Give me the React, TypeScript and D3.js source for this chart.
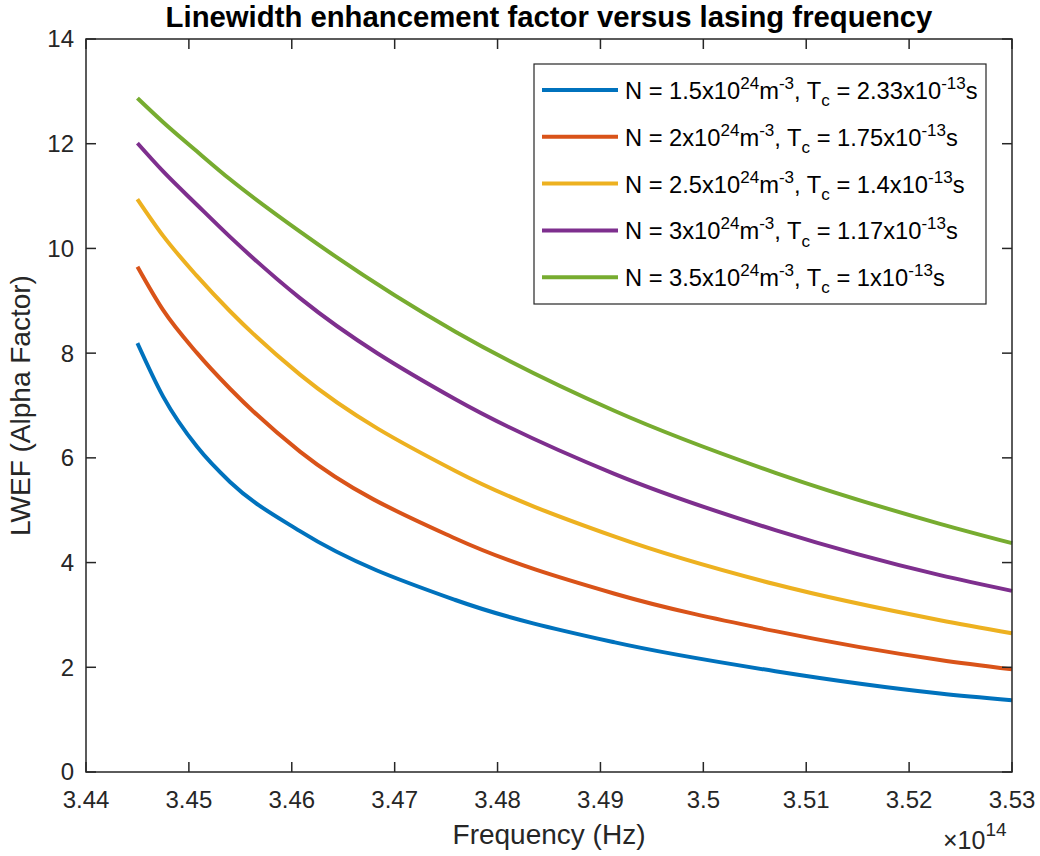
import { useMemo } from 'react';
import * as d3 from 'd3';

const WIDTH = 1040;
const HEIGHT = 856;
const MARGIN = { top: 39, right: 28, bottom: 84, left: 86 };
const FONT = '"Liberation Sans", Arial, Helvetica, sans-serif';
const AXIS_COLOR = '#262626';

// frequency, x10^14 Hz
const frequency = [3.445, 3.4475, 3.4508, 3.454, 3.4608, 3.4759, 3.4914, 3.507, 3.523, 3.53];

const alphaN15 = [8.19, 7.17, 6.21, 5.54, 4.6, 3.285, 2.475, 1.925, 1.5, 1.37];
const alphaN20 = [9.65, 8.82, 8.0, 7.32, 6.12, 4.46, 3.405, 2.69, 2.14, 1.96];
const alphaN25 = [10.94, 10.24, 9.47, 8.8, 7.59, 5.75, 4.495, 3.585, 2.9, 2.65];
const alphaN30 = [12.01, 11.47, 10.83, 10.22, 9.05, 7.12, 5.69, 4.62, 3.76, 3.46];
const alphaN35 = [12.87, 12.41, 11.85, 11.32, 10.32, 8.41, 6.895, 5.715, 4.74, 4.37];

const xTicks = [3.44, 3.45, 3.46, 3.47, 3.48, 3.49, 3.5, 3.51, 3.52, 3.53];
const yTicks = [0, 2, 4, 6, 8, 10, 12, 14];

// legend pieces: [text, 'n' | 'sup' | 'sub']
const legendLabels = [
  [['N = 1.5x10', 'n'], ['24', 'sup'], ['m', 'n'], ['-3', 'sup'], [', T', 'n'], ['c', 'sub'], [' = 2.33x10', 'n'], ['-13', 'sup'], ['s', 'n']],
  [['N = 2x10', 'n'], ['24', 'sup'], ['m', 'n'], ['-3', 'sup'], [', T', 'n'], ['c', 'sub'], [' = 1.75x10', 'n'], ['-13', 'sup'], ['s', 'n']],
  [['N = 2.5x10', 'n'], ['24', 'sup'], ['m', 'n'], ['-3', 'sup'], [', T', 'n'], ['c', 'sub'], [' = 1.4x10', 'n'], ['-13', 'sup'], ['s', 'n']],
  [['N = 3x10', 'n'], ['24', 'sup'], ['m', 'n'], ['-3', 'sup'], [', T', 'n'], ['c', 'sub'], [' = 1.17x10', 'n'], ['-13', 'sup'], ['s', 'n']],
  [['N = 3.5x10', 'n'], ['24', 'sup'], ['m', 'n'], ['-3', 'sup'], [', T', 'n'], ['c', 'sub'], [' = 1x10', 'n'], ['-13', 'sup'], ['s', 'n']],
];

const seriesValues = [alphaN15, alphaN20, alphaN25, alphaN30, alphaN35];
const colors = ['#0072BD', '#D95319', '#EDB120', '#7E2F8E', '#77AC30'];

const RichText = ({ x, y, parts, size }) => {
  const small = size * 0.72;
  let shift = 0;
  return (
    <text x={x} y={y} fontSize={size} fill="#000" fontFamily={FONT}>
      {parts.map(([t, kind], i) => {
        const target = kind === 'sup' ? -size * 0.42 : kind === 'sub' ? size * 0.3 : 0;
        const dy = target - shift;
        shift = target;
        return (
          <tspan key={i} dy={dy} fontSize={kind === 'n' ? size : small} style={{ whiteSpace: 'pre' }}>
            {t}
          </tspan>
        );
      })}
    </text>
  );
};

const App = () => {
  const boundsWidth = WIDTH - MARGIN.left - MARGIN.right;
  const boundsHeight = HEIGHT - MARGIN.top - MARGIN.bottom;

  const xScale = useMemo(() => d3.scaleLinear().domain([3.44, 3.53]).range([0, boundsWidth]), [boundsWidth]);
  const yScale = useMemo(() => d3.scaleLinear().domain([0, 14]).range([boundsHeight, 0]), [boundsHeight]);

  const lineGen = d3
    .line<[number, number]>()
    .x(d => xScale(d[0]))
    .y(d => yScale(d[1]))
    .curve(d3.curveMonotoneX);

  const paths = seriesValues.map((vals, i) => (
    <path
      key={`line-${i}`}
      d={lineGen(frequency.map((f, j) => [f, vals[j]])) || ''}
      fill="none"
      stroke={colors[i]}
      strokeWidth={4}
      strokeLinejoin="round"
    />
  ));

  const tickLen = 10;

  const xAxis = xTicks.map(t => {
    const x = xScale(t);
    return (
      <g key={`x-${t}`}>
        <line x1={x} x2={x} y1={boundsHeight} y2={boundsHeight - tickLen} stroke={AXIS_COLOR} strokeWidth={1.5} />
        <line x1={x} x2={x} y1={0} y2={tickLen} stroke={AXIS_COLOR} strokeWidth={1.5} />
        <text x={x} y={boundsHeight + 36} textAnchor="middle" fontSize={24} fill={AXIS_COLOR} fontFamily={FONT}>
          {String(+t.toFixed(2))}
        </text>
      </g>
    );
  });

  const yAxis = yTicks.map(t => {
    const y = yScale(t);
    return (
      <g key={`y-${t}`}>
        <line x1={0} x2={tickLen} y1={y} y2={y} stroke={AXIS_COLOR} strokeWidth={1.5} />
        <line x1={boundsWidth} x2={boundsWidth - tickLen} y1={y} y2={y} stroke={AXIS_COLOR} strokeWidth={1.5} />
        <text x={-12} y={y} dy="0.35em" textAnchor="end" fontSize={24} fill={AXIS_COLOR} fontFamily={FONT}>
          {t}
        </text>
      </g>
    );
  });

  // legend box in plot coords
  const legend = { x: 534 - MARGIN.left, y: 64 - MARGIN.top, w: 452, h: 240, rowGap: 46.8, firstRow: 90 - MARGIN.top };

  return (
    <svg width={WIDTH} height={HEIGHT} style={{ position: 'absolute', left: 0, top: 0, background: '#fff' }}>
      <rect width={WIDTH} height={HEIGHT} fill="#fff" />
      <text
        x={MARGIN.left + boundsWidth / 2}
        y={27}
        textAnchor="middle"
        fontSize={29.3}
        fontWeight="bold"
        fill="#000"
        fontFamily={FONT}
      >
        Linewidth enhancement factor versus lasing frequency
      </text>
      <g transform={`translate(${[MARGIN.left, MARGIN.top].join(',')})`}>
        {paths}
        <rect x={0} y={0} width={boundsWidth} height={boundsHeight} fill="none" stroke={AXIS_COLOR} strokeWidth={1.5} />
        {xAxis}
        {yAxis}
        <g>
          <rect x={legend.x} y={legend.y} width={legend.w} height={legend.h} fill="#fff" stroke={AXIS_COLOR} strokeWidth={1.2} />
          {legendLabels.map((parts, i) => {
            const cy = legend.firstRow + i * legend.rowGap;
            return (
              <g key={`leg-${i}`}>
                <line x1={legend.x + 8} x2={legend.x + 84} y1={cy} y2={cy} stroke={colors[i]} strokeWidth={4} />
                <RichText x={legend.x + 91} y={cy + 9} parts={parts} size={23.7} />
              </g>
            );
          })}
        </g>
        <text
          x={boundsWidth / 2}
          y={boundsHeight + 72}
          textAnchor="middle"
          fontSize={28}
          fill={AXIS_COLOR}
          fontFamily={FONT}
        >
          Frequency (Hz)
        </text>
        <text
          transform={`translate(${-MARGIN.left + 30},${boundsHeight / 2}) rotate(-90)`}
          textAnchor="middle"
          fontSize={28}
          fill={AXIS_COLOR}
          fontFamily={FONT}
        >
          LWEF (Alpha Factor)
        </text>
        <text x={boundsWidth - 69} y={boundsHeight + 77} fontSize={25} fill={AXIS_COLOR} fontFamily={FONT}>
          <tspan>×10</tspan>
          <tspan dy={-13} fontSize={19}>14</tspan>
        </text>
      </g>
    </svg>
  );
};

export default App;
